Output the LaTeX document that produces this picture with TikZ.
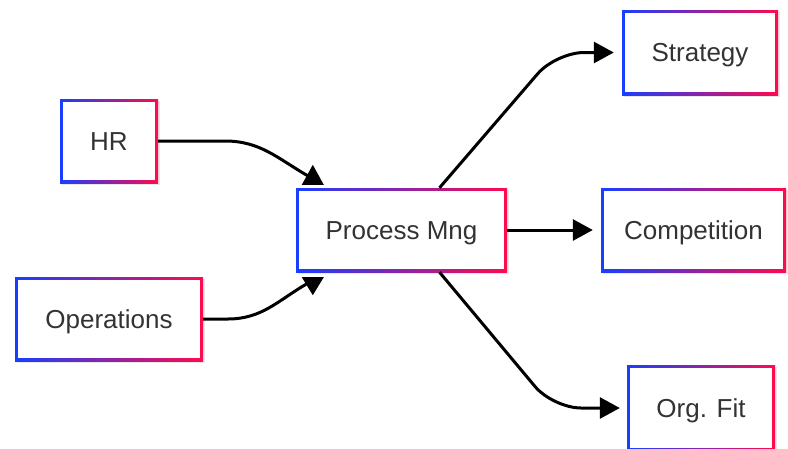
\documentclass[tikz,border=0pt]{standalone}
\usepackage{fontspec}
\setmainfont{Liberation Sans}
\usetikzlibrary{arrows.meta,shadows}
\definecolor{gblue}{RGB}{24,62,255}
\definecolor{gred}{RGB}{255,10,78}
\definecolor{txt}{RGB}{51,51,51}
\tikzset{
  box/.style={rectangle, minimum height=84pt, inner sep=0pt, text=txt,
    font=\fontsize{26}{30}\selectfont, text height=23.5pt, text depth=5.5pt,
    drop shadow={opacity=0.18, shadow xshift=1.5pt, shadow yshift=-1.5pt},
    path picture={
      \shade[left color=gblue,right color=gred]
        (path picture bounding box.south west) rectangle (path picture bounding box.north east);
      \fill[white]
        ([shift={(3pt,3pt)}]path picture bounding box.south west) rectangle
        ([shift={(-3pt,-3pt)}]path picture bounding box.north east);
    }},
  link/.style={line width=3pt, black},
  arr/.style={link, -{Triangle[length=20pt,width=21pt]}},
  head/.style={fill=black}
}
\begin{document}
\begin{tikzpicture}[x=1pt,y=1pt]
\node[box, minimum width=98pt]  (hr)    at (109,-141)   {HR};
\node[box, minimum width=188pt] (ops)   at (109,-319)   {Operations};
\node[box, minimum width=211pt] (pm)    at (401.5,-230) {Process Mng};
\node[box, minimum width=156pt, minimum height=85pt] (strat) at (700,-52.5) {Strategy};
\node[box, minimum width=185pt] (comp)  at (693.5,-230) {Competition};
\node[box, minimum width=148pt, minimum height=86pt] (org) at (701,-408) {Org. Fit};
% arrowhead base centres near Process Mng
\coordinate (b1) at ([xshift=17pt,yshift=3pt]pm.north west);
\coordinate (b2) at ([xshift=17pt,yshift=-5pt]pm.south west);
\coordinate (e1) at ([xshift=-5pt,yshift=9pt]b1);
\coordinate (e2) at ([xshift=-5pt,yshift=-6pt]b2);
\coordinate (c1) at (225,-141);
\coordinate (c2) at (228,-319);
\coordinate (k1) at (556,-52.5);
\coordinate (k2) at (553,-408);
\draw[link] (hr.east) -- (c1) to[out=0,in=150] (e1);
\fill[head] ([xshift=-11pt]b1) -- ([xshift=11pt]b1) -- ([yshift=20pt]b1) -- cycle;
\draw[link] (ops.east) -- (c2) to[out=0,in=210] (e2);
\fill[head] ([xshift=-11pt]b2) -- ([xshift=11pt]b2) -- ([yshift=-18pt]b2) -- cycle;
\draw[arr, rounded corners=28pt, shorten >=8pt] ([xshift=38pt]pm.north) -- (k1) -- (strat.west);
\draw[arr, shorten >=8pt] (pm.east) -- (comp.west);
\draw[arr, rounded corners=28pt, shorten >=7pt] ([xshift=38pt]pm.south) -- (k2) -- (org.west);
\pgfresetboundingbox
\useasboundingbox (0,0) rectangle (788,-448);
\end{tikzpicture}
\end{document}
